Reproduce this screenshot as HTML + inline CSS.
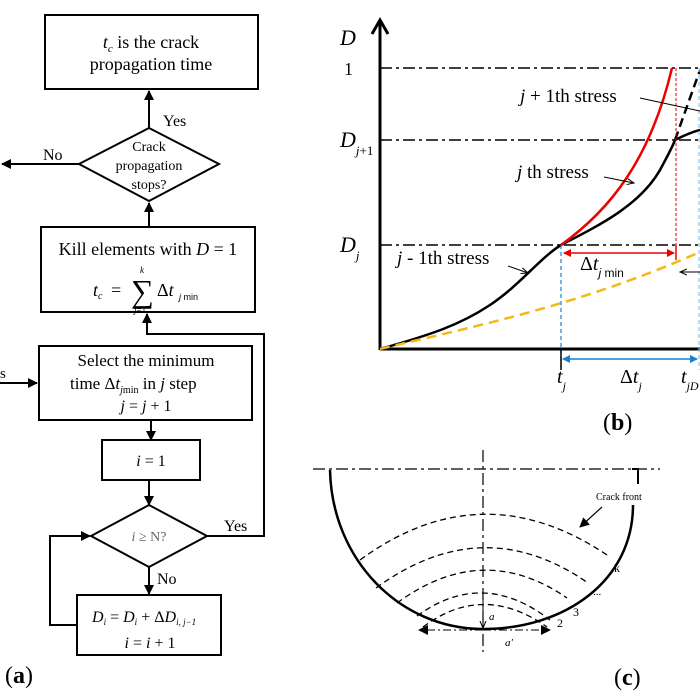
<!DOCTYPE html>
<html><head><meta charset="utf-8"><style>
html,body{margin:0;padding:0;background:#fff}
svg{display:block}
text{font-family:"Liberation Serif",serif;fill:#000}
.s{font-family:"Liberation Sans",sans-serif}
</style></head><body>
<svg width="700" height="700" viewBox="0 0 700 700" xmlns="http://www.w3.org/2000/svg">
<defs>
<marker id="ah" markerWidth="10" markerHeight="10" refX="9" refY="5" orient="auto" markerUnits="userSpaceOnUse"><path d="M0,0 L10,5 L0,10 z" fill="#000"/></marker>
<marker id="ahs" markerWidth="8" markerHeight="8" refX="7" refY="4" orient="auto" markerUnits="userSpaceOnUse"><path d="M0,1 L7,4 L0,7" fill="none" stroke="#000"/></marker>
<marker id="ar" markerWidth="8" markerHeight="8" refX="7" refY="4" orient="auto" markerUnits="userSpaceOnUse"><path d="M0,0 L8,4 L0,8 z" fill="#e00"/></marker>
<marker id="ab" markerWidth="8" markerHeight="8" refX="7" refY="4" orient="auto" markerUnits="userSpaceOnUse"><path d="M0,0 L8,4 L0,8 z" fill="#1a7fd0"/></marker>
</defs>
<g stroke="#000" stroke-width="2" fill="none">
<rect x="45" y="15" width="213" height="74"/>
<line x1="149" y1="128" x2="149" y2="91" marker-end="url(#ah)"/>
<polygon points="149,128 219,164 149,201 79,164"/>
<line x1="79" y1="164" x2="2" y2="164" marker-end="url(#ah)"/>
<line x1="149" y1="227" x2="149" y2="203" marker-end="url(#ah)"/>
<rect x="41" y="227" width="214" height="85"/>
<polyline points="207,536 264,536 264,334 147,334 147,314" marker-end="url(#ah)"/>
<rect x="39" y="346" width="213" height="74"/>
<line x1="0" y1="383" x2="37" y2="383" marker-end="url(#ah)"/>
<line x1="151" y1="420" x2="151" y2="440" marker-end="url(#ah)"/>
<rect x="102" y="440" width="98" height="40"/>
<line x1="149" y1="480" x2="149" y2="505" marker-end="url(#ah)"/>
<polygon points="149,505 207,536 149,567 91,536"/>
<line x1="149" y1="567" x2="149" y2="594" marker-end="url(#ah)"/>
<rect x="77" y="595" width="144" height="60"/>
<polyline points="77,625 50,625 50,536 90,536" marker-end="url(#ah)"/>
</g>
<text x="151" y="48" font-size="18" text-anchor="middle"><tspan font-style="italic">t</tspan><tspan font-style="italic" font-size="11" dy="4">c</tspan><tspan dy="-4">  is the crack</tspan></text>
<text x="151" y="70" font-size="18" text-anchor="middle">propagation time</text>
<text x="163" y="126" font-size="16">Yes</text>
<text x="43" y="160" font-size="16">No</text>
<text x="149" y="151" font-size="14" text-anchor="middle">Crack</text>
<text x="149" y="170" font-size="14" text-anchor="middle">propagation</text>
<text x="149" y="189" font-size="14" text-anchor="middle">stops?</text>
<text x="148" y="255" font-size="18" text-anchor="middle">Kill elements with <tspan font-style="italic">D</tspan>  = 1</text>
<text x="93" y="296" font-size="18" font-style="italic">t<tspan font-size="10" dy="3">c</tspan></text>
<text x="111" y="296" font-size="18">=</text>
<text x="131" y="302" font-size="32">∑</text>
<text x="140" y="273" font-size="9" font-style="italic">k</text>
<text x="134" y="313" font-size="9"><tspan font-style="italic">j</tspan>=1</text>
<text x="157" y="296" font-size="18">Δ<tspan font-style="italic">t</tspan></text>
<text x="179" y="300" font-size="9" class="s"><tspan font-style="italic">j</tspan> min</text>
<text x="0" y="378" font-size="15">s</text>
<text x="146" y="366" font-size="17" text-anchor="middle">Select the minimum</text>
<text x="70" y="389" font-size="17">time  Δ<tspan font-style="italic">t</tspan><tspan font-size="10" dy="4" font-style="italic">j</tspan><tspan font-size="10">min</tspan><tspan dy="-4"> in </tspan><tspan font-style="italic">j</tspan> step</text>
<text x="146" y="411" font-size="16" text-anchor="middle"><tspan font-style="italic">j</tspan> = <tspan font-style="italic">j</tspan> + 1</text>
<text x="151" y="466" font-size="16" text-anchor="middle"><tspan font-style="italic">i</tspan> = 1</text>
<text x="149" y="541" font-size="14" text-anchor="middle" style="fill:#666"><tspan font-style="italic">i</tspan> ≥ N?</text>
<text x="224" y="531" font-size="16">Yes</text>
<text x="157" y="584" font-size="16">No</text>
<text x="92" y="622" font-size="16" font-style="italic">D<tspan font-size="9" dy="3">i</tspan><tspan dy="-3" font-style="normal"> = </tspan>D<tspan font-size="9" dy="3">i</tspan><tspan dy="-3" font-style="normal"> + Δ</tspan>D<tspan font-size="9" dy="3">i, j−1</tspan></text>
<text x="150" y="648" font-size="16" text-anchor="middle"><tspan font-style="italic">i</tspan> = <tspan font-style="italic">i</tspan> + 1</text>
<text x="5" y="683" font-size="24">(<tspan font-weight="bold">a</tspan>)</text>

<!-- (b) -->
<g fill="none">
<line x1="380" y1="350" x2="380" y2="22" stroke="#000" stroke-width="3"/>
<path d="M372,34 L380,20 L388,34" stroke="#000" stroke-width="3"/>
<line x1="380" y1="349" x2="700" y2="349" stroke="#000" stroke-width="3"/>
<g stroke="#000" stroke-width="1.5" stroke-dasharray="12,4,3,4">
<line x1="380" y1="68" x2="700" y2="68"/>
<line x1="380" y1="140" x2="700" y2="140"/>
<line x1="380" y1="245" x2="700" y2="245"/>
</g>
<path d="M380,349 C430,335 460,325 490,305 C520,285 540,258 561,245" stroke="#000" stroke-width="2.5"/>
<path d="M561,245 C600,225 640,205 660,170 C668,155 672,148 675,140 C685,135 692,132 700,130" stroke="#000" stroke-width="2.5"/>
<path d="M561,245 C610,210 650,160 672,68" stroke="#e00" stroke-width="2.5"/>
<path d="M675,140 L700,70" stroke="#000" stroke-width="2.5" stroke-dasharray="9,5"/>
<path d="M380,349 C480,325 580,305 700,252" stroke="#f5b914" stroke-width="2.5" stroke-dasharray="10,6"/>
<line x1="561" y1="245" x2="561" y2="370" stroke="#1a7fd0" stroke-width="1.2" stroke-dasharray="4,3"/>
<line x1="699" y1="68" x2="699" y2="370" stroke="#8cc7ee" stroke-width="1.2" stroke-dasharray="4,3"/>
<line x1="676" y1="68" x2="676" y2="258" stroke="#e00" stroke-width="1" stroke-dasharray="3,2"/>
<line x1="564" y1="253" x2="674" y2="253" stroke="#e00" stroke-width="1.5" marker-end="url(#ar)"/>
<line x1="566" y1="253" x2="564" y2="253" stroke="#e00" stroke-width="1.5" marker-end="url(#ar)"/>
<line x1="676" y1="245" x2="676" y2="260" stroke="#e00" stroke-width="1.5"/>
<line x1="564" y1="359" x2="697" y2="359" stroke="#1a7fd0" stroke-width="1.5" marker-end="url(#ab)"/>
<line x1="566" y1="359" x2="563" y2="359" stroke="#1a7fd0" stroke-width="1.5" marker-end="url(#ab)"/>
<line x1="561" y1="349" x2="561" y2="370" stroke="#000" stroke-width="1.5"/>
<line x1="640" y1="98" x2="700" y2="111" stroke="#000" stroke-width="1"/>
<line x1="604" y1="177" x2="634" y2="183" stroke="#000" stroke-width="1" marker-end="url(#ahs)"/>
<line x1="508" y1="266" x2="528" y2="273" stroke="#000" stroke-width="1" marker-end="url(#ahs)"/>
<line x1="700" y1="272" x2="680" y2="272" stroke="#000" stroke-width="1" marker-end="url(#ahs)"/>
</g>
<text x="340" y="45" font-size="22" font-style="italic">D</text>
<text x="344" y="75" font-size="18">1</text>
<text x="340" y="147" font-size="22" font-style="italic">D<tspan font-size="13" dy="8">j</tspan><tspan font-size="13" font-style="normal">+1</tspan></text>
<text x="340" y="252" font-size="22" font-style="italic">D<tspan font-size="13" dy="8">j</tspan></text>
<text x="520" y="102" font-size="19"><tspan font-style="italic">j</tspan> + 1th stress</text>
<text x="517" y="178" font-size="19"><tspan font-style="italic">j</tspan> th stress</text>
<text x="397" y="264" font-size="19"><tspan font-style="italic">j</tspan> - 1th stress</text>
<text x="580" y="270" font-size="20">Δ<tspan font-style="italic">t</tspan><tspan font-size="12" dy="7" class="s"><tspan font-style="italic">j</tspan> min</tspan></text>
<text x="557" y="383" font-size="20" font-style="italic">t<tspan font-size="12" dy="7">j</tspan></text>
<text x="620" y="383" font-size="20">Δ<tspan font-style="italic">t</tspan><tspan font-size="12" dy="7" font-style="italic">j</tspan></text>
<text x="681" y="383" font-size="20" font-style="italic">t<tspan font-size="12" dy="7">jD</tspan></text>
<text x="603" y="430" font-size="24">(<tspan font-weight="bold">b</tspan>)</text>

<!-- (c) -->
<g fill="none" stroke="#000">
<line x1="313" y1="469" x2="660" y2="469" stroke-width="1.2" stroke-dasharray="12,4,3,4"/>
<line x1="483" y1="450" x2="483" y2="652" stroke-width="1.2" stroke-dasharray="12,4,3,4"/>
<path d="M330,470 C332,560 400,629 483,629 C566,629 633,580 633,505" stroke-width="2.5"/>
<polyline points="632,469 638,469 638,484" stroke-width="2"/>
<g stroke-width="1.3" stroke-dasharray="6,4">
<path d="M360,560 Q483,470 610,557"/>
<path d="M376,588 Q483,510 588,583"/>
<path d="M397,603 Q483,540 567,598"/>
<path d="M417,616 Q483,568 550,620"/>
<path d="M423,627 Q483,582 547,627"/>
</g>
<line x1="483" y1="600" x2="483" y2="628" stroke-width="1" marker-end="url(#ahs)"/>
<line x1="483" y1="630" x2="419" y2="630" stroke-width="1" stroke-dasharray="8,3,2,3" marker-end="url(#ah)"/>
<line x1="483" y1="630" x2="550" y2="630" stroke-width="1" stroke-dasharray="8,3,2,3" marker-end="url(#ah)"/>
<line x1="602" y1="507" x2="580" y2="527" stroke-width="1.2" marker-end="url(#ah)"/>
</g>
<text x="596" y="500" font-size="10">Crack front</text>
<text x="614" y="572" font-size="12">k</text>
<text x="593" y="595" font-size="11">...</text>
<text x="573" y="616" font-size="12">3</text>
<text x="557" y="627" font-size="12">2</text>
<text x="489" y="620" font-size="11" font-style="italic">a</text>
<text x="505" y="646" font-size="11" font-style="italic">a'</text>
<text x="614" y="685" font-size="24">(<tspan font-weight="bold">c</tspan>)</text>
</svg>
</body></html>
